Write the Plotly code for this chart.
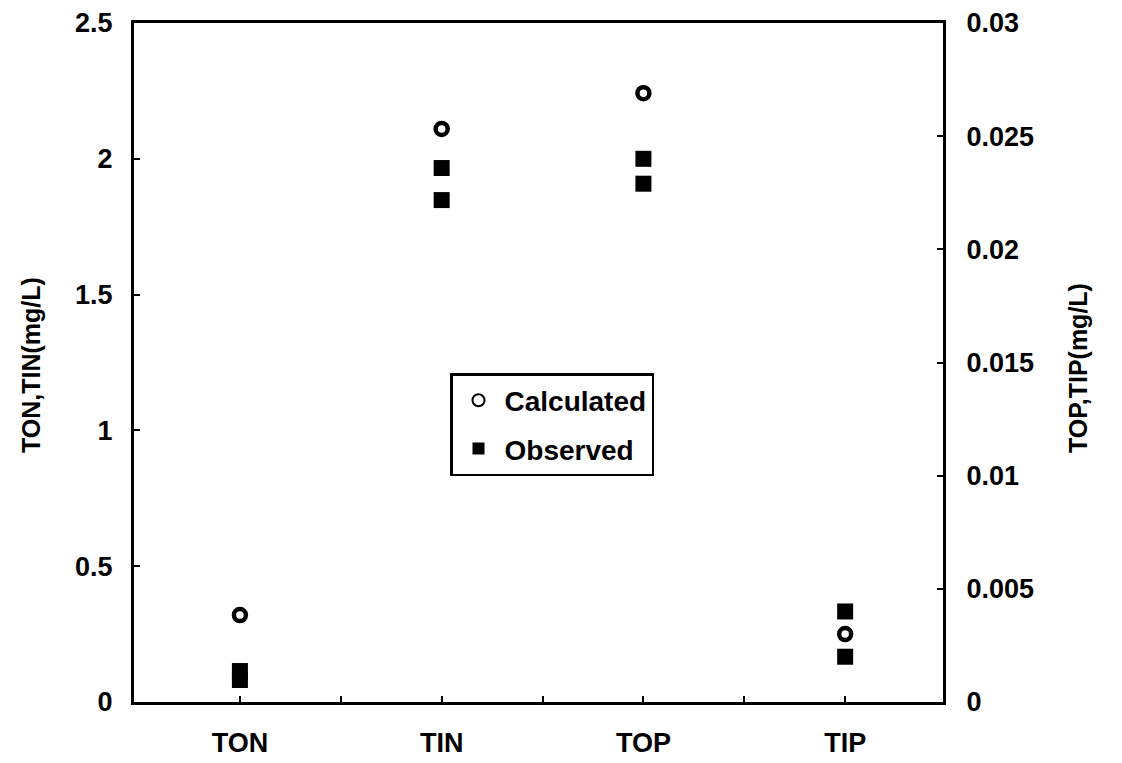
import plotly.graph_objects as go

categories = ["TON", "TIN", "TOP", "TIP"]
cat_pos = [1, 2, 3, 4]

# Left axis (mg/L): TON, TIN
calc_left_x = [1, 2]
calc_left_y = [0.32, 2.11]
obs_left_x = [1, 1, 2, 2]
obs_left_y = [0.114, 0.081, 1.966, 1.848]

# Right axis (mg/L): TOP, TIP
calc_right_x = [3, 4]
calc_right_y = [0.0269, 0.0030]
obs_right_x = [3, 3, 4, 4]
obs_right_y = [0.0240, 0.0229, 0.0040, 0.0020]

left_ticks = [0, 0.5, 1, 1.5, 2, 2.5]
left_ticktext = ["0", "0.5", "1", "1.5", "2", "2.5"]
right_ticks = [0, 0.005, 0.01, 0.015, 0.02, 0.025, 0.03]
right_ticktext = ["0", "0.005", "0.01", "0.015", "0.02", "0.025", "0.03"]

FONT = "Liberation Sans, Arial, sans-serif"
TICKFONT = dict(family=FONT, size=27, weight="bold", color="black")

circle = dict(symbol="circle-open", size=12, color="black", line=dict(width=4.5, color="black"))
square = dict(symbol="square", size=16, color="black", line=dict(width=0))

fig = go.Figure()
fig.add_trace(go.Scatter(x=calc_left_x, y=calc_left_y, mode="markers", marker=circle,
                         name="Calculated", legendgroup="c"))
fig.add_trace(go.Scatter(x=obs_left_x, y=obs_left_y, mode="markers", marker=square,
                         name="Observed", legendgroup="o"))
fig.add_trace(go.Scatter(x=calc_right_x, y=calc_right_y, mode="markers", marker=circle,
                         name="Calculated", legendgroup="c", showlegend=False, yaxis="y2"))
fig.add_trace(go.Scatter(x=obs_right_x, y=obs_right_y, mode="markers", marker=square,
                         name="Observed", legendgroup="o", showlegend=False, yaxis="y2"))

xtickvals = [1, 1.5, 2, 2.5, 3, 3.5, 4]
xticktext = ["TON", "", "TIN", "", "TOP", "", "TIP"]

# page has an 8px body margin, so the figure is drawn 8px in from the corner
W, H = 1114, 755
L, R, T, B = 126, 179, 15, 61
OFF = 8

fig.update_layout(
    width=W, height=H,
    margin=dict(l=L, r=R, t=T, b=B, autoexpand=False),
    paper_bgcolor="white", plot_bgcolor="white",
    font=dict(family=FONT, size=19, color="black"),
    xaxis=dict(range=[0.475, 4.485], tickvals=xtickvals, ticktext=xticktext,
               ticks="inside", ticklen=6, tickwidth=2, tickcolor="black",
               showline=True, linewidth=3, linecolor="black", mirror=True,
               showgrid=False, zeroline=False, automargin=False,
               ticklabelstandoff=15, tickfont=TICKFONT),
    yaxis=dict(range=[0, 2.5], tickvals=left_ticks, ticktext=left_ticktext,
               ticks="inside", ticklen=6, tickwidth=2, tickcolor="black",
               showline=True, linewidth=3, linecolor="black",
               showgrid=False, zeroline=False, automargin=False,
               ticklabelstandoff=13, tickfont=TICKFONT),
    yaxis2=dict(range=[0, 0.03], tickvals=right_ticks, ticktext=right_ticktext,
                overlaying="y", side="right",
                ticks="inside", ticklen=6, tickwidth=2, tickcolor="black",
                showline=True, linewidth=3, linecolor="black",
                showgrid=False, zeroline=False, automargin=False,
                ticklabelstandoff=15, tickfont=TICKFONT),
    showlegend=True,
)

pw, ph = W - L - R, H - T - B
# legend top-left corner in window pixels
lx, ly = 450, 373
fig.update_layout(
    legend=dict(x=(lx - OFF - L) / pw, y=(H - B - (ly - OFF)) / ph,
                xanchor="left", yanchor="top",
                bordercolor="black", borderwidth=2.5, bgcolor="white",
                font=dict(family=FONT, size=28, weight="bold"),
                itemsizing="constant", itemwidth=42, tracegroupgap=9),
)

# axis titles, positioned in window pixels (centre of text)
titles = [("TON,TIN(mg/L)", 31, 365), ("TOP,TIP(mg/L)", 1078, 368)]
for text, px, py in titles:
    fx, fy = px - OFF, py - OFF
    fig.add_annotation(text=text, textangle=-90,
                       x=(fx - L) / pw, y=(H - B - fy) / ph,
                       xref="paper", yref="paper", xanchor="center", yanchor="middle",
                       showarrow=False, font=dict(family=FONT, size=25, weight="bold"))

fig.write_html("out.html")
